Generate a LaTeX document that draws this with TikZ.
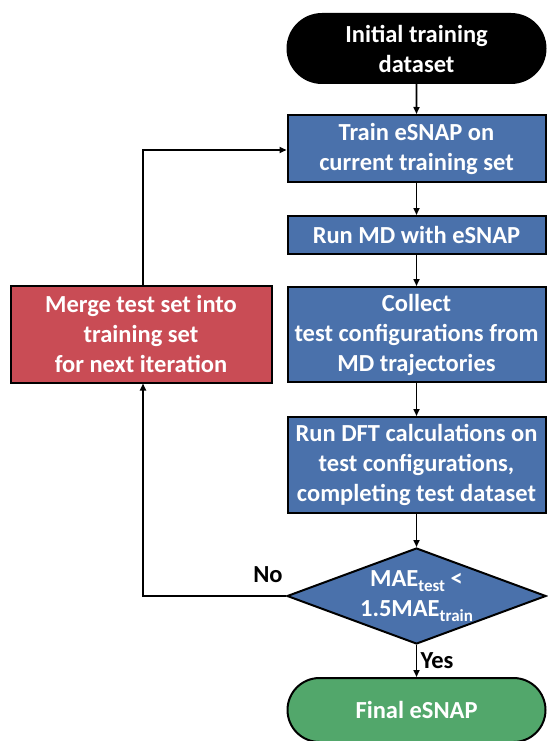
\documentclass[tikz,border=0pt]{standalone}
\usepackage{fontspec}
\setmainfont{Carlito}
\usetikzlibrary{shapes.geometric,shapes.misc,arrows.meta}
\definecolor{boxblue}{HTML}{4A71AB}
\definecolor{boxred}{HTML}{C94C55}
\definecolor{boxgreen}{HTML}{52A76B}
\newcommand{\sbs}[1]{\raisebox{-0.45ex}{\fontsize{17}{17}\selectfont #1}}
\begin{document}
\begin{tikzpicture}[x=1pt,y=-1pt,
  base/.style={draw=black,line width=2pt,text=white,font=\fontsize{24.5}{30}\selectfont\bfseries,align=center,inner sep=0pt},
  stepbox/.style={base,rectangle,fill=boxblue,minimum width=258pt},
  term/.style={base,rounded rectangle,minimum width=258pt},
  conn/.style={line width=1.6pt,-{Triangle[length=7pt,width=6pt]}},
  lbl/.style={font=\fontsize{24.5}{25}\selectfont\bfseries,text=black,inner sep=0pt}
]
\useasboundingbox (0,0) rectangle (547,741);
\node[term,fill=black,minimum height=69pt] (init) at (416.5,48.5) {Initial training\\dataset};
\node[stepbox,minimum height=67pt] (train) at (416.5,148.5) {Train eSNAP on\\current training set};
\node[stepbox,minimum height=38pt] (md) at (416.5,235) {Run MD with eSNAP};
\node[stepbox,minimum height=95pt] (collect) at (416.5,334.5) {Collect\\test configurations from\\MD trajectories};
\node[stepbox,minimum height=96pt] (dft) at (416.5,465) {Run DFT calculations on\\test configurations,\\completing test dataset};
\node[base,diamond,fill=boxblue,minimum width=259pt,minimum height=96pt,
  label={[base,draw=none,fill=none]center:MAE\sbs{test} <\\1.5MAE\sbs{train}}] (dec) at (416.5,596) {};
\node[term,fill=boxgreen,minimum height=64pt] (final) at (416.5,710) {Final eSNAP};
\node[base,rectangle,fill=boxred,minimum width=261pt,minimum height=97pt] (merge) at (141,334) {Merge test set into\\training set\\for next iteration};
\coordinate (c1) at (143,596);
\coordinate (c2) at (143,150);
\draw[conn] (init) -- (train);
\draw[conn] (train) -- (md);
\draw[conn] (md) -- (collect);
\draw[conn] (collect) -- (dft);
\draw[conn] (dft) -- (dec);
\draw[conn] (dec) -- (final);
\draw[conn] (dec.west) -- (c1) -- (merge.south -| c1);
\draw[conn] (merge.north -| c2) -- (c2) -- (c2 -| train.west);
\node[lbl] (no) at (268,575) {No};
\node[lbl] (yes) at (437,661) {Yes};
\end{tikzpicture}
\end{document}
